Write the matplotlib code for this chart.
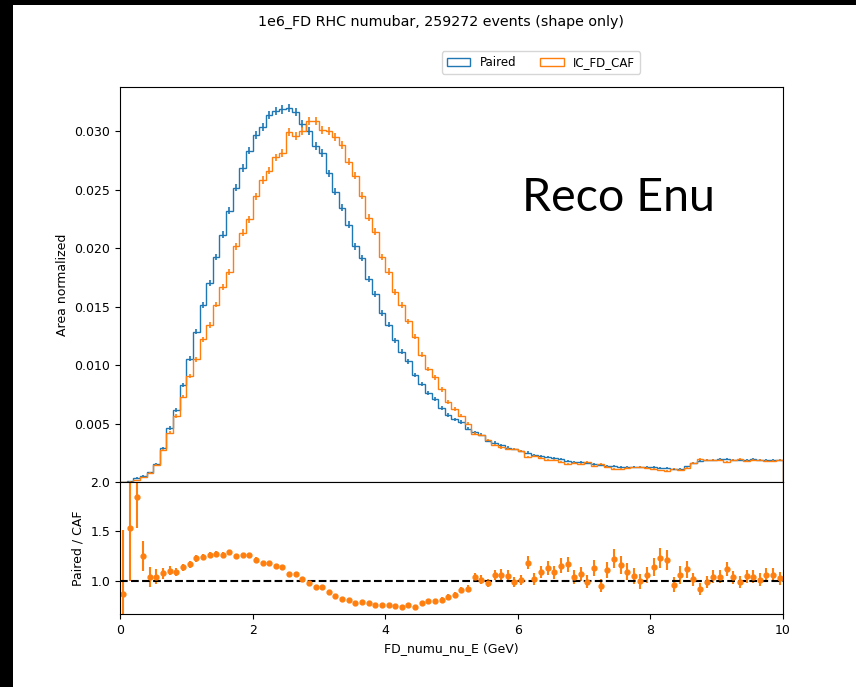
import numpy as np
import matplotlib
matplotlib.use("Agg")
import matplotlib.pyplot as plt
from matplotlib.patches import Rectangle

n_events = 259272
edges = np.linspace(0, 10, 101)

# shape-normalised bin contents, 0.1 GeV bins
paired = [
    0.000013, 0.000080, 0.00037, 0.00055, 0.00085, 0.00154, 0.00293, 0.00464, 0.00617, 0.00833,
    0.01055, 0.01288, 0.01513, 0.01701, 0.01928, 0.02116, 0.02321, 0.02520, 0.02685, 0.02836,
    0.02969, 0.03040, 0.03137, 0.03174, 0.03188, 0.03197, 0.03166, 0.03060, 0.03003, 0.02878,
    0.02813, 0.02642, 0.02486, 0.02346, 0.02201, 0.02016, 0.01917, 0.01738, 0.01610, 0.01448,
    0.01348, 0.01212, 0.01115, 0.01035, 0.00916, 0.00842, 0.00765, 0.00708, 0.00637, 0.00575,
    0.00538, 0.00515, 0.00458, 0.00429, 0.00407, 0.00353, 0.00338, 0.00316, 0.00296, 0.00282,
    0.00267, 0.00253, 0.00230, 0.00225, 0.00213, 0.00208, 0.00196, 0.00178, 0.00173, 0.00170,
    0.00168, 0.00160, 0.00150, 0.00142, 0.00137, 0.00134, 0.00134, 0.00133, 0.00131, 0.00131,
    0.00131, 0.00124, 0.00120, 0.00112, 0.00112, 0.00135, 0.00165, 0.00185, 0.00190, 0.00193,
    0.00195, 0.00197, 0.00193, 0.00193, 0.00192, 0.00195, 0.00193, 0.00192, 0.00193, 0.00192,
]
caf = [
    0.000015, 0.000052, 0.00020, 0.00044, 0.00082, 0.00148, 0.00273, 0.00422, 0.00566, 0.00733,
    0.00907, 0.01052, 0.01222, 0.01345, 0.01519, 0.01673, 0.01801, 0.02016, 0.02134, 0.02247,
    0.02446, 0.02583, 0.02665, 0.02777, 0.02814, 0.02993, 0.02964, 0.03000, 0.03086, 0.03088,
    0.03009, 0.03002, 0.02949, 0.02886, 0.02741, 0.02622, 0.02451, 0.02260, 0.02141, 0.01926,
    0.01802, 0.01627, 0.01517, 0.01376, 0.01246, 0.01091, 0.00970, 0.00897, 0.00793, 0.00687,
    0.00628, 0.00569, 0.00499, 0.00416, 0.00404, 0.00362, 0.00319, 0.00298, 0.00282, 0.00286,
    0.00266, 0.00214, 0.00226, 0.00207, 0.00189, 0.00192, 0.00170, 0.00153, 0.00167, 0.00159,
    0.00170, 0.00142, 0.00158, 0.00128, 0.00112, 0.00116, 0.00123, 0.00127, 0.00132, 0.00124,
    0.00115, 0.00101, 0.00099, 0.00117, 0.00106, 0.00121, 0.00163, 0.00202, 0.00193, 0.00186,
    0.00188, 0.00177, 0.00187, 0.00196, 0.00184, 0.00188, 0.00191, 0.00181, 0.00182, 0.00188,
]

paired = np.array(paired)
caf = np.array(caf)
centers = 0.5 * (edges[1:] + edges[:-1])

# poisson errors on the normalised contents
err_p = np.sqrt(paired / n_events)
err_c = np.sqrt(caf / n_events)
ratio = paired / caf
err_r = ratio * np.sqrt((err_p / paired) ** 2 + (err_c / caf) ** 2)

fig = plt.figure(figsize=(8.56, 6.87), dpi=100)
gs = fig.add_gridspec(2, 1, height_ratios=[3, 1], hspace=0,
                      left=0.1402, right=0.9147, top=0.8734, bottom=0.1063)
ax = fig.add_subplot(gs[0])
axr = fig.add_subplot(gs[1], sharex=ax)

ax.hist(centers, bins=edges, weights=paired, histtype="step", color="C0", label="Paired")
ax.hist(centers, bins=edges, weights=caf, histtype="step", color="C1", label="IC_FD_CAF")
ax.errorbar(centers, paired, yerr=err_p, fmt="none", ecolor="C0", elinewidth=1.2)
ax.errorbar(centers, caf, yerr=err_c, fmt="none", ecolor="C1", elinewidth=1.2)
ax.set_ylim(0, 0.0338)
ax.set_yticks([0.005, 0.010, 0.015, 0.020, 0.025, 0.030])
ax.set_ylabel("Area normalized", fontsize=9)
ax.tick_params(axis="x", labelbottom=False, length=0)
ax.tick_params(axis="y", labelsize=9)

axr.errorbar(centers, ratio, yerr=err_r, fmt="o", color="C1", markersize=3.5,
             elinewidth=1.5)
axr.axhline(1.0, color="k", linestyle="--", linewidth=1.5)
axr.set_ylim(0.66, 2.0)
axr.set_yticks([1.0, 1.5, 2.0])
axr.set_xlim(0, 10)
axr.tick_params(labelsize=9)
axr.set_ylabel("Paired / CAF", fontsize=9)
axr.set_xlabel("FD_numu_nu_E (GeV)", fontsize=9)

fig.text(0.515, 0.968, "1e6_FD RHC numubar, 259272 events (shape only)",
         ha="center", va="center", fontsize=10.3)
fig.legend(loc="center", bbox_to_anchor=(0.632, 0.909), ncol=2, fontsize=8.5)
fig.text(0.61, 0.712, "Reco Enu", ha="left", va="center", fontsize=33.5,
         family=["Lato", "DejaVu Sans"])

# dark strips along the top and left edges
fig.patches.append(Rectangle((0, 0), 13 / 856, 1, transform=fig.transFigure,
                             facecolor="black", edgecolor="none", zorder=10))
fig.patches.append(Rectangle((0, 1 - 5 / 687), 1, 5 / 687, transform=fig.transFigure,
                             facecolor="black", edgecolor="none", zorder=10))

fig.savefig("out.png", dpi=100)
